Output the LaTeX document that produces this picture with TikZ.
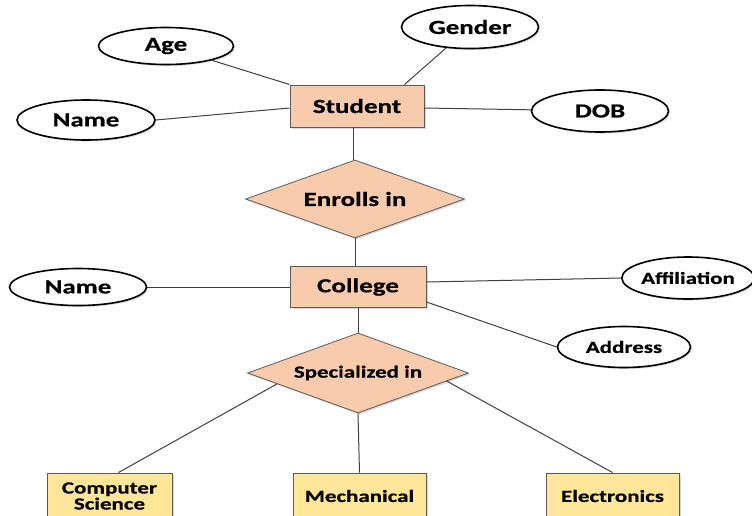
\documentclass[tikz,border=0pt]{standalone}
\usepackage{fontspec}
\newfontfamily\erfont{Carlito}[FakeStretch=1.35,FakeBold=0.6]
\usetikzlibrary{shapes.geometric,shadows,calc}
\definecolor{peach}{HTML}{F8CBAD}
\definecolor{yel}{HTML}{FFE699}
\definecolor{bord}{HTML}{5A5A5A}
\definecolor{conn}{HTML}{404040}
\begin{document}
\begin{tikzpicture}[x=1pt,y=-1pt,
  every node/.style={font=\erfont\bfseries\fontsize{20}{22}\selectfont, text=black},
  shad/.style={drop shadow={shadow xshift=1.5pt,shadow yshift=-1.5pt,opacity=0.3,fill=black!50}},
  attr/.style={ellipse, draw=black, line width=1.6pt, fill=white, inner sep=0pt, shad},
  ent/.style={rectangle, draw=bord, line width=1pt, fill=peach, inner sep=0pt, shad},
  rel/.style={diamond, aspect=2.8, draw=bord, line width=0.8pt, fill=peach, inner sep=0pt, shad},
  sub/.style={rectangle, draw=bord, line width=1pt, fill=yel, inner sep=0pt, shad, minimum width=133pt, minimum height=46pt},
  small/.style={font=\erfont\bfseries\fontsize{17}{19}\selectfont},
  link/.style={draw=conn, line width=1pt}]
\clip (0,0) rectangle (752,515);
\fill[white] (0,0) rectangle (752,515);

\node[ent, minimum width=134pt, minimum height=42pt] (student) at (357,106) {Student};
\node[attr, minimum width=135pt, minimum height=37pt] (age) at (166,46) {Age};
\node[attr, minimum width=138pt, minimum height=40pt] (name1) at (86,120) {Name};
\node[attr, minimum width=137pt, minimum height=43pt] (gender) at (470,27) {Gender};
\node[attr, minimum width=137pt, minimum height=42pt] (dob) at (600,111) {DOB};
\node[rel, minimum width=219pt, minimum height=78pt] (enrolls) at (355,199) {Enrolls in};
\node[ent, minimum width=136pt, minimum height=41pt] (college) at (358,287) {College};
\node[attr, minimum width=137pt, minimum height=37pt] (name2) at (78,287) {Name};
\node[attr, small, minimum width=127pt, minimum height=42pt] (affil) at (688,278) {Affiliation};
\node[attr, small, minimum width=133pt, minimum height=41pt] (addr) at (624,347) {Address};
\node[rel, small, minimum width=221pt, minimum height=80pt] (spec) at (358,373) {Specialized in};
\node[sub, small, minimum width=125pt, align=center] (cs) at (109.5,496) {Computer\\[-3pt]Science};
\node[sub, small] (mech) at (359.5,496) {Mechanical};
\node[sub, small] (elec) at (612.5,496) {Electronics};

\draw[link] (age) -- (student.north west);
\draw[link] (name1.east) -- ([yshift=-2pt]student.west);
\draw[link] (gender) -- ([xshift=-20pt]student.north east);
\draw[link] ([yshift=-2pt]student.east) -- (dob);
\draw[link] ([xshift=-4pt]student.south) -- ([xshift=-2pt]enrolls.north);
\draw[link] (enrolls.south) -- ([xshift=-3pt]college.north);
\draw[link] (name2.east) -- (college.west);
\draw[link] ([yshift=5pt]college.east) -- (affil.west);
\draw[link] ([yshift=6pt]college.south east) -- (addr.west);
\draw[link] (college.south) -- (spec.north);
\draw[link] ($(spec.west)!0.27!(spec.south)$) -- ([xshift=9pt]cs.north);
\draw[link] (spec.south) -- (mech.north);
\draw[link] ($(spec.east)!0.2!(spec.south)$) -- (elec.north);
\end{tikzpicture}
\end{document}
